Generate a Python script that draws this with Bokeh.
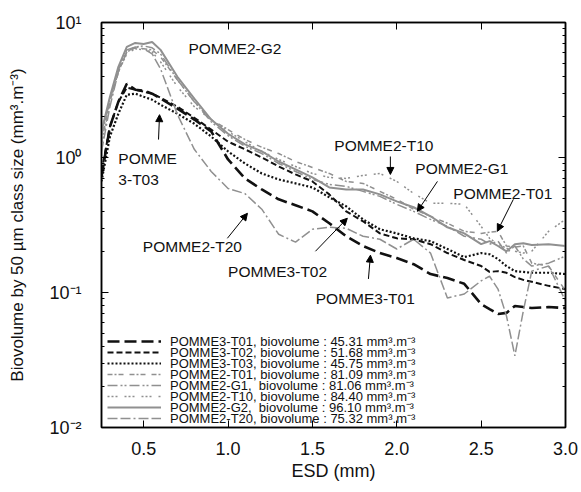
from bokeh.plotting import figure
from bokeh.models import (LogAxis, LinearAxis, Range1d, Label, Arrow, NormalHead,
                          Legend, LegendItem, FixedTicker, LogTicker,
                          PrintfTickFormatter, CustomJSTickFormatter)
from bokeh.embed import file_html
from bokeh.resources import INLINE

# ---------------- data ----------------
esd = [0.25, 0.3, 0.35, 0.4, 0.45, 0.5, 0.55, 0.6, 0.7, 0.8, 0.9, 1.0, 1.1, 1.2,
       1.3, 1.4, 1.5, 1.6, 1.7, 1.8, 1.9, 2.0, 2.1, 2.2, 2.3, 2.4, 2.5, 2.55,
       2.6, 2.65, 2.7, 2.75, 2.8, 2.9, 3.0]

pomme3_t01 = [0.724, 1.69, 2.59, 3.52, 3.18, 3.13, 2.97, 2.73, 2.30, 1.91, 1.56, 0.967,
              0.70, 0.58, 0.49, 0.443, 0.399, 0.326, 0.261, 0.221, 0.196, 0.180, 0.162,
              0.137, 0.128, 0.116, 0.0821, 0.0754, 0.0694, 0.0706, 0.0794, 0.078,
              0.0767, 0.078, 0.0767]
pomme3_t02 = [0.788, 1.69, 2.59, 3.29, 3.18, 3.07, 2.97, 2.77, 2.38, 1.97, 1.61, 1.31,
              1.15, 1.00, 0.858, 0.749, 0.665, 0.533, 0.399, 0.337, 0.274, 0.252, 0.248,
              0.228, 0.196, 0.174, 0.157, 0.142, 0.144, 0.140, 0.130, 0.124, 0.120,
              0.112, 0.106]
pomme3_t03 = [0.665, 1.43, 2.11, 2.92, 2.97, 2.82, 2.68, 2.46, 2.11, 1.78, 1.43, 1.11,
              0.903, 0.762, 0.688, 0.643, 0.600, 0.507, 0.435, 0.348, 0.294, 0.274, 0.252,
              0.240, 0.210, 0.183, 0.196, 0.192, 0.177, 0.157, 0.144, 0.142, 0.140,
              0.140, 0.137]
pomme2_t01 = [1.31, 2.59, 4.31, 6.06, 6.49, 6.38, 6.27, 5.56, 3.76, 2.59, 1.91, 1.61,
              1.36, 1.19, 1.07, 0.934, 0.844, 0.762, 0.665, 0.643, 0.561, 0.490, 0.414,
              0.367, 0.326, 0.284, 0.274, 0.279, 0.284, 0.221, 0.217, 0.221, 0.165,
              0.157, 0.103]
pomme2_g1 = [1.43, 2.68, 4.47, 6.27, 6.60, 6.71, 6.49, 5.86, 3.76, 2.59, 1.84, 1.45,
             1.21, 1.07, 0.903, 0.788, 0.688, 0.632, 0.611, 0.561, 0.515, 0.450, 0.399,
             0.348, 0.309, 0.261, 0.248, 0.228, 0.240, 0.196, 0.221, 0.177, 0.157,
             0.165, 0.186]
pomme2_t10 = [1.21, 2.59, 4.31, 5.86, 6.38, 6.27, 6.06, 5.11, 3.34, 2.38, 1.91, 1.56,
              1.31, 1.11, 0.967, 0.858, 0.762, 0.712, 0.700, 0.736, 0.762, 0.665, 0.542,
              0.458, 0.458, 0.450, 0.309, 0.252, 0.228, 0.213, 0.202, 0.196, 0.202,
              0.284, 0.348]
pomme2_g2 = [1.56, 2.82, 4.70, 6.60, 7.06, 6.94, 7.18, 6.27, 3.96, 2.73, 1.91, 1.50,
             1.25, 1.11, 0.934, 0.816, 0.712, 0.600, 0.580, 0.580, 0.533, 0.473, 0.428,
             0.367, 0.304, 0.274, 0.228, 0.240, 0.221, 0.202, 0.228, 0.232, 0.225,
             0.228, 0.221]
pomme2_t20 = [1.11, 2.38, 4.31, 6.06, 6.60, 6.38, 5.86, 4.54, 2.08, 1.15, 0.788, 0.59,
              0.54, 0.414, 0.270, 0.236, 0.294, 0.304, 0.299, 0.261, 0.248, 0.210, 0.248,
              0.196, 0.0911, 0.0975, 0.122, 0.132, 0.106, 0.0671, 0.0340, 0.073, 0.144,
              0.157, 0.0865]

legend_labels = [
    "POMME3-T01, biovolume : 45.31 mm³.m⁻³",
    "POMME3-T02, biovolume : 51.68 mm³.m⁻³",
    "POMME3-T03, biovolume : 45.75 mm³.m⁻³",
    "POMME2-T01, biovolume : 81.09 mm³.m⁻³",
    "POMME2-G1,  biovolume : 81.06 mm³.m⁻³",
    "POMME2-T10, biovolume : 84.40 mm³.m⁻³",
    "POMME2-G2,  biovolume : 96.10 mm³.m⁻³",
    "POMME2-T20, biovolume : 75.32 mm³.m⁻³",
]
x_ticks = [0.5, 1.0, 1.5, 2.0, 2.5, 3.0]

FONT = "Liberation Sans"
BLACK = "#111111"
GREY = "#909090"

styles = [
    (pomme3_t01, BLACK, 2.6, "12 5"),
    (pomme3_t02, BLACK, 2.0, "6 3"),
    (pomme3_t03, BLACK, 2.2, "2 2"),
    (pomme2_t01, GREY, 1.5, "5 2 2 2 5 6"),
    (pomme2_g1, GREY, 1.5, "10 3 2 2 2 3"),
    (pomme2_t10, GREY, 1.5, "2 2 2 2 2 7"),
    (pomme2_g2, GREY, 2.0, "solid"),
    (pomme2_t20, GREY, 1.5, "10 3 10 3 2 3"),
]

p = figure(width=581, height=492, y_axis_type="log",
           x_range=Range1d(0.25, 3.0), y_range=Range1d(0.01, 10),
           output_backend="svg", toolbar_location=None,
           min_border_left=101, min_border_right=16, min_border_top=22,
           min_border_bottom=65)
p.grid.visible = False
p.outline_line_color = "black"
p.outline_line_width = 1.5
p.background_fill_color = "white"
p.border_fill_color = "white"

items = []
for (vals, col, w, dash), lab in zip(styles, legend_labels):
    r = p.line(esd, vals, line_color=col, line_width=w, line_dash=dash)
    items.append(LegendItem(label=lab, renderers=[r]))

# axes
xa = p.xaxis[0]
xa.ticker = FixedTicker(ticks=x_ticks)
xa.formatter = PrintfTickFormatter(format="%.1f")
xa.axis_label = "ESD (mm)"
ya = p.yaxis[0]
ya.ticker = LogTicker(num_minor_ticks=10)
ya.formatter = CustomJSTickFormatter(code="""
const e = Math.round(Math.log10(tick));
const sup = {"-2": "\u207b\u00b2", "-1": "\u207b\u00b9", "0": "\u2070", "1": "\u00b9"};
return "10" + sup[String(e)];
""")
ya.axis_label = "Biovolume by 50 µm class size (mm³.m⁻³)"

for ax in (xa, ya):
    ax.major_label_text_font = FONT
    ax.major_label_text_font_size = "18px"
    ax.major_label_text_color = "#111111"
    ax.axis_label_text_font = FONT
    ax.axis_label_text_font_size = "18px"
    ax.axis_label_text_font_style = "normal"
    ax.axis_label_text_color = "#111111"
    ax.major_tick_in = 7
    ax.major_tick_out = 0
    ax.minor_tick_in = 3
    ax.minor_tick_out = 0
    ax.axis_line_color = "black"
    ax.axis_line_width = 1.5
    ax.major_tick_line_color = "black"
    ax.minor_tick_line_color = "black"
xa.minor_tick_line_color = None
xa.major_label_standoff = 14
xa.axis_label_standoff = 3
ya.major_label_standoff = 20
ya.axis_label_standoff = 19
ya.axis_label_text_font_size = "17px"

blank = CustomJSTickFormatter(code="return '';")
top = LinearAxis(ticker=FixedTicker(ticks=x_ticks), formatter=blank,
                 major_label_text_color=None, major_label_text_font_size="8px",
                 major_tick_in=7, major_tick_out=0, minor_tick_line_color=None,
                 major_label_standoff=0, axis_line_width=1.5)
p.add_layout(top, "above")
right = LogAxis(ticker=LogTicker(num_minor_ticks=10), formatter=blank,
                major_label_text_color=None, major_label_text_font_size="8px",
                major_tick_in=7, major_tick_out=0, minor_tick_in=3, minor_tick_out=0,
                major_label_standoff=0, axis_line_width=1.5)
p.add_layout(right, "right")

# legend: one compact row per entry, stacked tightly as in the original figure
ROW = 11
n = len(items)
for i, it in enumerate(items):
    lg = Legend(items=[it], location=(6, round((n - 1 - i) * ROW)),
                background_fill_alpha=0, border_line_alpha=0,
                label_text_font=FONT, label_text_font_size="13px",
                label_text_color="#111111", glyph_width=54, glyph_height=10,
                label_height=10, label_standoff=9, spacing=0, padding=0, margin=0)
    p.add_layout(lg)

# annotations (data coordinates)
labels = [
    ("POMME2-G2", 0.765, 6.4),
    ("POMME2-T10", 1.63, 1.22),
    ("POMME2-G1", 2.11, 0.83),
    ("POMME2-T01", 2.335, 0.542),
    ("POMME", 0.35, 0.98),
    ("3-T03", 0.35, 0.69),
    ("POMME2-T20", 0.495, 0.22),
    ("POMME3-T02", 1.0, 0.144),
    ("POMME3-T01", 1.52, 0.091),
]
for t, x, y in labels:
    p.add_layout(Label(x=x, y=y, text=t, text_font=FONT, text_font_size="15.5px",
                       text_baseline="middle", text_color="#111111"))

arrows = [
    (0.588, 1.358, 0.594, 2.076),
    (0.996, 0.252, 1.115, 0.386),
    (1.962, 1.017, 1.962, 0.749),
    (2.241, 0.665, 2.122, 0.399),
    (2.691, 0.490, 2.596, 0.284),
    (1.518, 0.202, 1.707, 0.355),
    (1.832, 0.126, 1.844, 0.189),
]
for xs, ys, xe, ye in arrows:
    p.add_layout(Arrow(end=NormalHead(size=7, fill_color="black", line_color="black"),
                       x_start=xs, y_start=ys, x_end=xe, y_end=ye,
                       line_color="black", line_width=1))

open("out.html", "w").write(file_html(p, INLINE))
